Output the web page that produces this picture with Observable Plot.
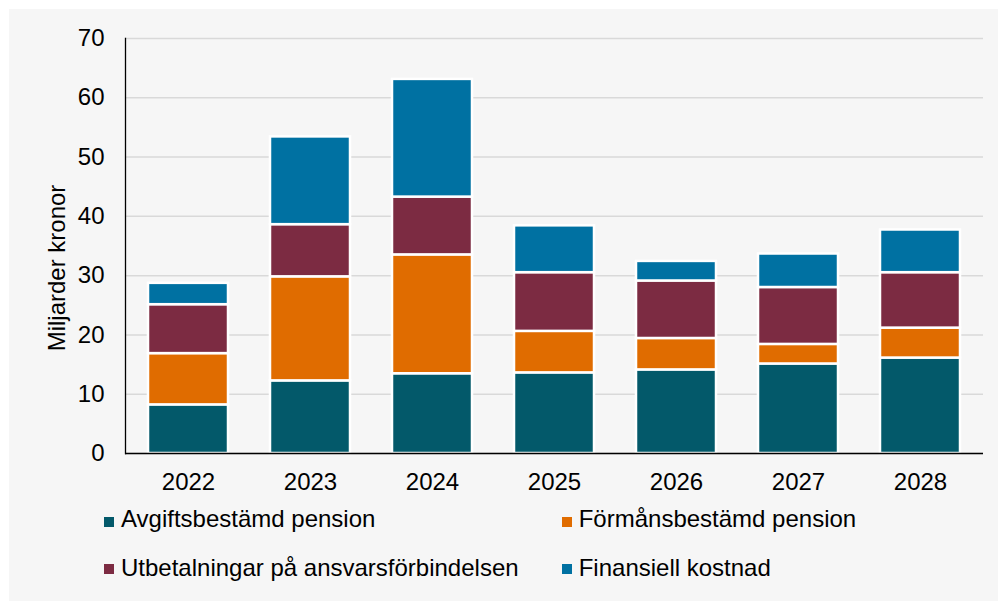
<!DOCTYPE html>
<html><head><meta charset="utf-8">
<script src="https://cdn.jsdelivr.net/npm/d3@7"></script>
<script src="https://cdn.jsdelivr.net/npm/@observablehq/plot@0.6"></script>
<style>
html,body{margin:0;padding:0;background:#fff;width:998px;height:601px;overflow:hidden}
#panel{position:absolute;left:9px;top:9px;width:989px;height:592px;background:#f6f6f6;font-family:"Liberation Sans",Arial,sans-serif;color:#000}
#panel svg{position:absolute;left:0;top:0}
.lg{position:absolute;font-size:24px;line-height:24px;white-space:nowrap;color:#000}
.sw{position:absolute;width:10px;height:10px}
</style></head>
<body><div id="panel"></div>
<script>
const years = ["2022","2023","2024","2025","2026","2027","2028"];
const series = ["Avgiftsbestämd pension","Förmånsbestämd pension","Utbetalningar på ansvarsförbindelsen","Finansiell kostnad"];
const colors = ["#03596a","#e06c00","#7c2b42","#0071a2"];
const avgift = [8.2, 12.25, 13.45, 13.6, 14.1, 15.1, 16.1];
const forman = [8.65, 17.55, 20.05, 7.0, 5.3, 3.3, 5.05];
const utbet  = [8.25, 8.8, 9.75, 9.9, 9.7, 9.6, 9.35];
const finans = [3.6, 14.8, 19.85, 7.9, 3.3, 5.65, 7.2];
const yTicks = [0,10,20,30,40,50,60,70];
const yTitle = "Miljarder kronor";

const values = [avgift, forman, utbet, finans];
const rows = [];
series.forEach((s, i) => years.forEach((y, j) => rows.push({year: y, series: s, value: values[i][j]})));

const font = "'Liberation Sans', Arial, sans-serif";
const chart = Plot.plot({
  width: 989, height: 492,
  marginLeft: 116, marginRight: 15, marginTop: 29, marginBottom: 48,
  style: {background: "transparent", fontFamily: font, fontSize: "24px", color: "#000"},
  x: {domain: years, paddingInner: 0.345, paddingOuter: 0.1725, label: null},
  y: {domain: [0, 70], label: null},
  color: {domain: series, range: colors},
  marks: [
    Plot.gridY(yTicks, {stroke: "#d9d9d9", strokeOpacity: 1, strokeWidth: 1.5}),
    Plot.barY(rows, {x: "year", y: "value", fill: "series", stroke: "#ffffff", strokeWidth: 2.5}),
    Plot.axisX({tickSize: 0, tickPadding: 19, fontSize: 24, label: null}),
    Plot.axisY(yTicks, {tickSize: 0, tickPadding: 21, fontSize: 24, label: null}),
    Plot.frame({anchor: "left", stroke: "#000", strokeWidth: 1.3}),
    Plot.ruleY([0], {stroke: "#000", strokeWidth: 1.3}),
    Plot.text([yTitle], {frameAnchor: "left", textAnchor: "middle", rotate: -90, dx: -68, dy: 22, fontSize: 24, fill: "#000"})
  ]
});
const panel = document.getElementById("panel");
panel.appendChild(chart);

const pos = [
  {sx: 95.3, sy: 507.7, tx: 112, ty: 498},
  {sx: 553, sy: 507.7, tx: 569.7, ty: 498},
  {sx: 95.3, sy: 554.7, tx: 112, ty: 546.7},
  {sx: 553, sy: 554.7, tx: 569.7, ty: 546.7}
];
series.forEach((s, i) => {
  const sw = document.createElement("div");
  sw.className = "sw";
  sw.style.left = pos[i].sx + "px"; sw.style.top = pos[i].sy + "px";
  sw.style.background = colors[i];
  panel.appendChild(sw);
  const t = document.createElement("div");
  t.className = "lg";
  t.style.left = pos[i].tx + "px"; t.style.top = pos[i].ty + "px";
  t.textContent = s;
  panel.appendChild(t);
});
</script>
</body></html>
